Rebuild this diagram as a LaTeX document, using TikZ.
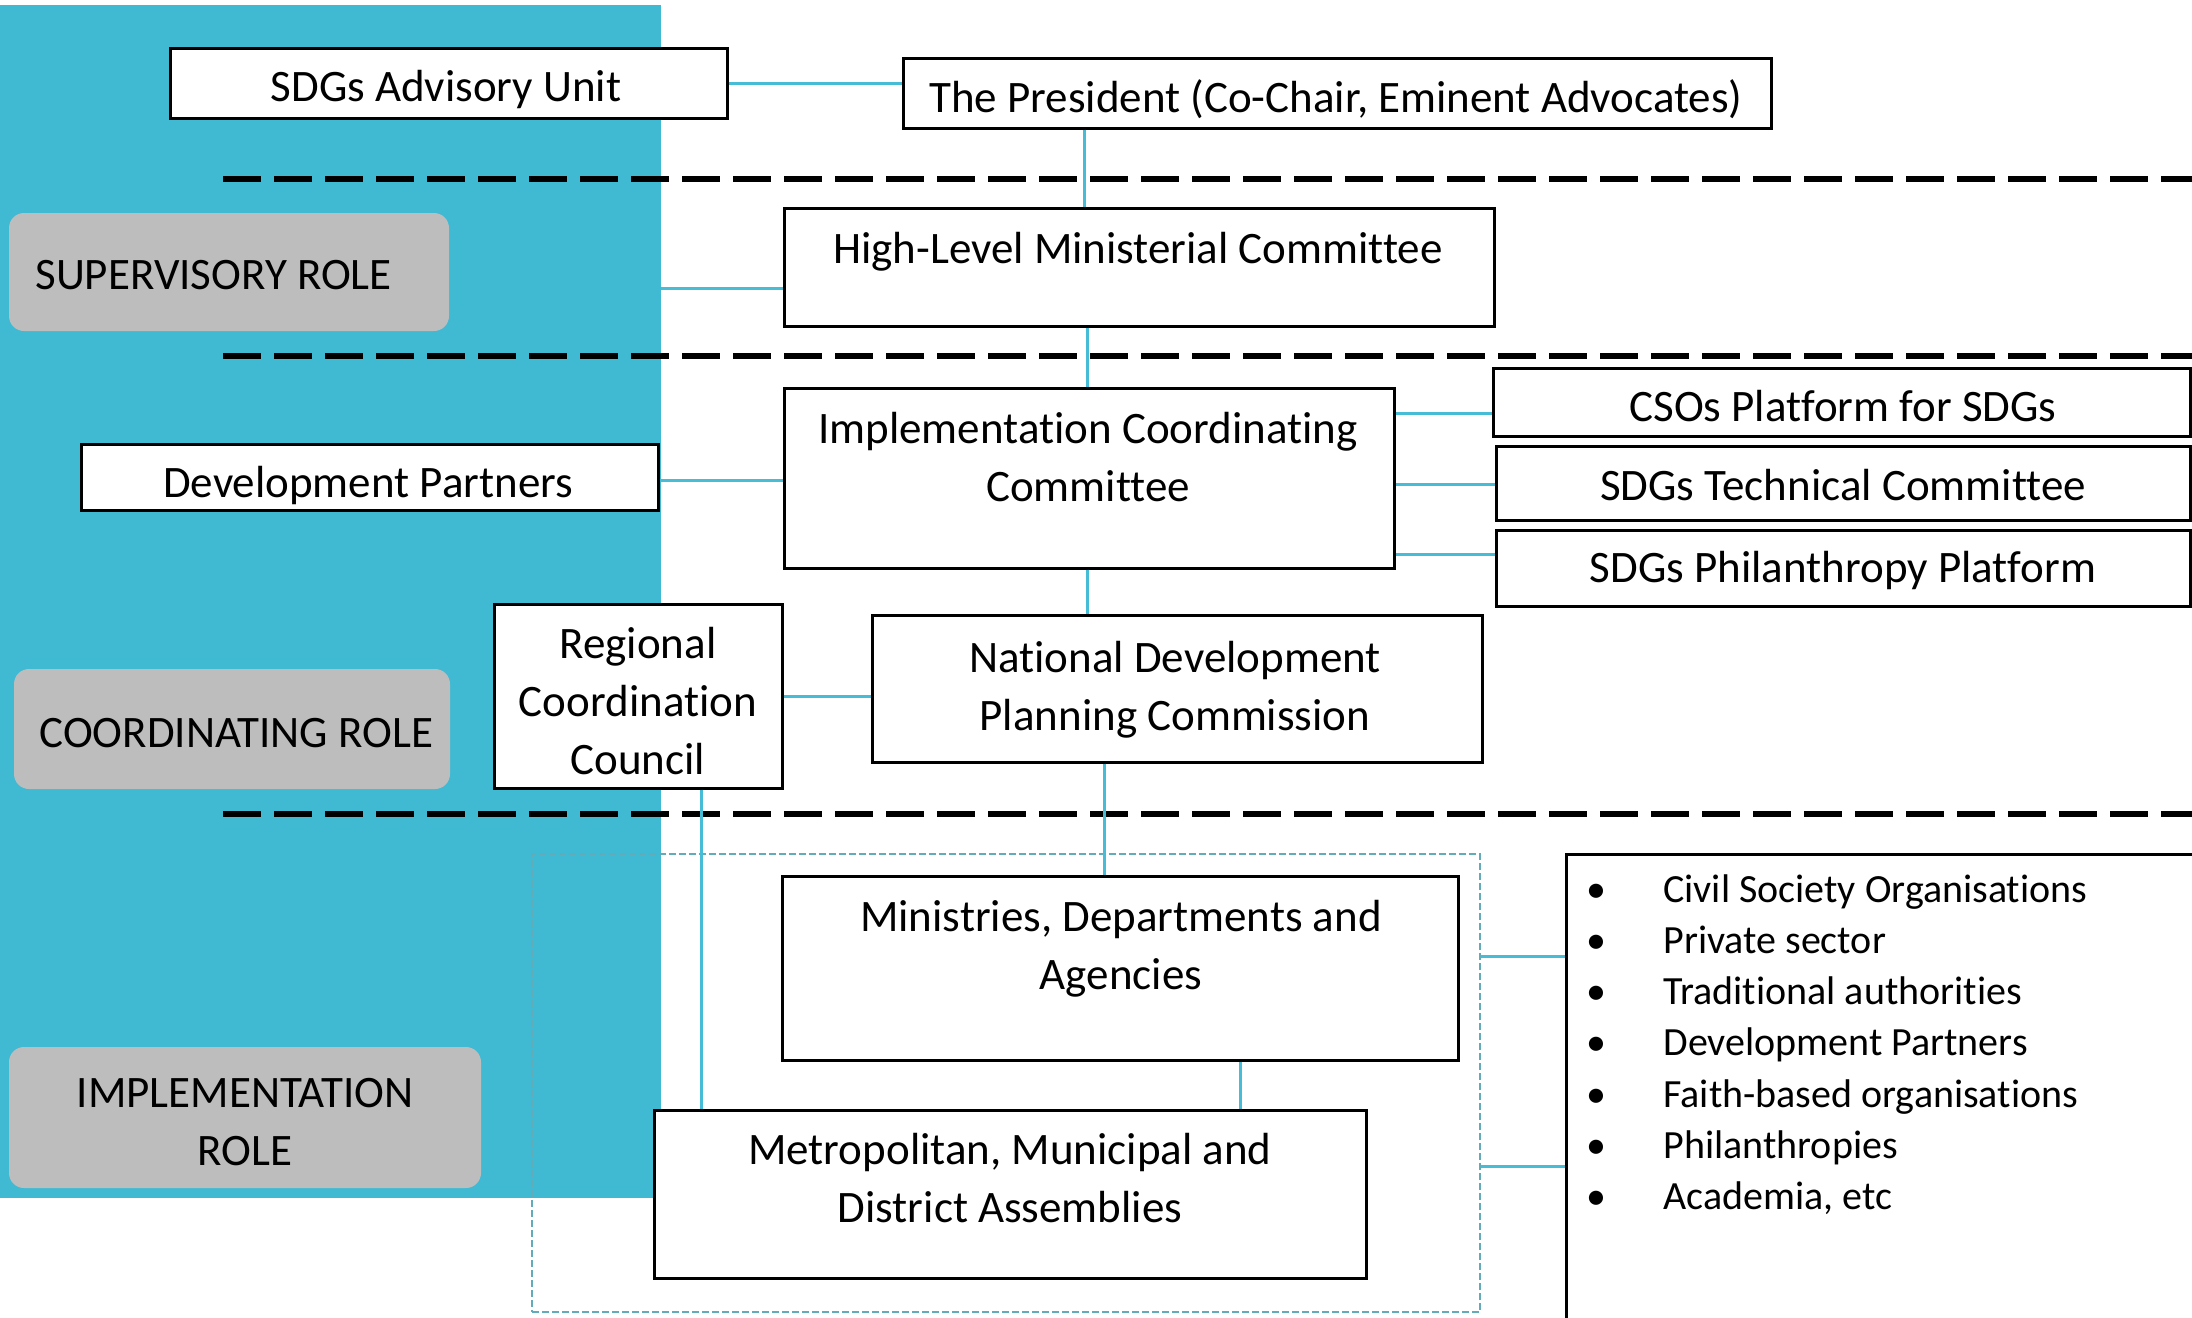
\documentclass[tikz,border=0pt]{standalone}
\usepackage{fontspec}
\setmainfont{Carlito}[Ligatures={NoCommon}]
\usetikzlibrary{fit}
\definecolor{panelblue}{RGB}{64,185,211}
\definecolor{connblue}{RGB}{70,188,214}
\definecolor{rolegray}{RGB}{189,189,189}
\definecolor{grpteal}{RGB}{98,172,186}
\begin{document}
\begin{tikzpicture}[x=0.5pt,y=-0.5pt,
  box/.style={draw=black, line width=1.5pt, fill=white, inner sep=0pt},
  role/.style={fill=rolegray, rounded corners=7.5pt, inner sep=0pt},
  txt/.style={font=\fontsize{22.5pt}{29pt}\selectfont, inner sep=0pt},
  mtxt/.style={txt, text width=#1, align=flush center},
  ltxt/.style={font=\fontsize{20pt}{25pt}\selectfont, inner sep=0pt},
  conn/.style={draw=connblue, line width=1.5pt},
  sepline/.style={line width=2.6pt, dash pattern=on 19pt off 6.5pt},
  grp/.style={draw=grpteal, line width=0.8pt, dash pattern=on 3.5pt off 1.5pt, inner sep=0pt}]
\useasboundingbox (0,0) rectangle (2192,1318);
\fill[white] (0,0) rectangle (2192,1318);
% blue panel
\node[fill=panelblue, inner sep=0pt, fit={(0,5) (661,1198)}] (panel) {};
% dashed separators
\draw[sepline] (223,179) -- (2192,179);
\draw[sepline] (223,356) -- (2192,356);
\draw[sepline] (223,814) -- (2192,814);
% group box
\node[grp, fit={(532,854) (1480,1312)}] (grp) {};
% role labels
\node[role, fit={(9,213) (449,331)}] (sup) {};
\node[txt, anchor=base west] (supT) at (35,289) {SUPERVISORY ROLE};
\node[role, fit={(14,669) (450,789)}] (coord) {};
\node[txt, anchor=base west] (coordT) at (39,747) {COORDINATING ROLE};
\node[role, fit={(9,1047) (481,1188)}] (impl) {};
\node[mtxt=220pt, anchor=base] (implT) at (245,1107) {IMPLEMENTATION\\ROLE};
% boxes
\node[box, fit={(170,48) (727,118)}] (adv) {};
\node[box, fit={(903,58) (1771,128)}] (pres) {};
\node[box, fit={(784,208) (1494,326)}] (hlmc) {};
\node[box, fit={(784,388) (1394,568)}] (icc) {};
\node[box, fit={(81,444) (658,510)}] (dp) {};
\node[box, fit={(1493,368) (2190,436)}] (cso) {};
\node[box, fit={(1496,446) (2190,520)}] (tech) {};
\node[box, fit={(1496,530) (2190,606)}] (phil) {};
\node[box, fit={(872,615) (1482,762)}] (ndpc) {};
\node[box, fit={(494,604) (782,788)}] (rcc) {};
\node[box, fit={(782,876) (1458,1060)}] (mda) {};
\node[box, fit={(654,1110) (1366,1278)}] (mmda) {};
\node[box, fit={(1566,854) (2300,1400)}] (list) {};
% connectors
\draw[conn] (adv.east) -- (pres.west |- adv.east);
\draw[conn] (1084,0 |- pres.south) -- (1084,0 |- hlmc.north);
\draw[conn] (panel.east |- 0,288) -- (hlmc.west |- 0,288);
\draw[conn] (1087,0 |- hlmc.south) -- (1087,0 |- icc.north);
\draw[conn] (dp.east |- 0,480) -- (icc.west |- 0,480);
\draw[conn] (icc.east |- 0,413) -- (cso.west |- 0,413);
\draw[conn] (icc.east |- 0,484) -- (tech.west |- 0,484);
\draw[conn] (icc.east |- 0,554) -- (phil.west |- 0,554);
\draw[conn] (1087,0 |- icc.south) -- (1087,0 |- ndpc.north);
\draw[conn] (rcc.east) -- (ndpc.west |- rcc.east);
\draw[conn] (701,0 |- rcc.south) -- (701,0 |- mmda.north);
\draw[conn] (1104,0 |- ndpc.south) -- (1104,0 |- mda.north);
\draw[conn] (1240,0 |- mda.south) -- (1240,0 |- mmda.north);
\draw[conn] (grp.east |- 0,956) -- (list.west |- 0,956);
\draw[conn] (grp.east |- 0,1166) -- (list.west |- 0,1166);
% texts
\node[txt, anchor=base] (advT) at (446,101) {SDGs Advisory Unit};
\node[txt, anchor=base] (presT) at (1336,112) {The President (Co-Chair, Eminent Advocates)};
\node[txt, anchor=base] (hlmcT) at (1138,263) {High-Level Ministerial Committee};
\node[mtxt=300pt, anchor=base] (iccT) at (1088,443) {Implementation Coordinating\\Committee};
\node[txt, anchor=base] (dpT) at (368,497) {Development Partners};
\node[txt, anchor=base] (csoT) at (1843,421) {CSOs Platform for SDGs};
\node[txt, anchor=base] (techT) at (1843,500) {SDGs Technical Committee};
\node[txt, anchor=base] (philT) at (1843,582) {SDGs Philanthropy Platform};
\node[mtxt=300pt, anchor=base] (ndpcT) at (1175,672) {National Development\\Planning Commission};
\node[mtxt=140pt, anchor=base] (rccT) at (638,658) {Regional\\Coordination\\Council};
\node[mtxt=320pt, anchor=base] (mdaT) at (1121,931) {Ministries, Departments and\\Agencies};
\node[mtxt=320pt, anchor=base] (mmdaT) at (1010,1164) {Metropolitan, Municipal and\\District Assemblies};
% list
\foreach \i/\t in {0/Civil Society Organisations, 1/Private sector, 2/Traditional authorities, 3/Development Partners, 4/Faith-based organisations, 5/Philanthropies, 6/{Academia, etc}} {
  \node[ltxt, anchor=base] (b\i) at (1596,902+51.3*\i) {•};
  \node[ltxt, anchor=base west] (l\i) at (1663,902+51.3*\i) {\t};
}
\end{tikzpicture}
\end{document}
